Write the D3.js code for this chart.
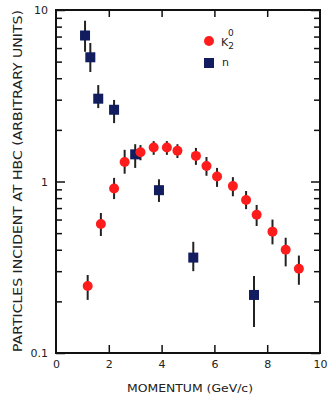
<!DOCTYPE html>
<html>
<head>
<meta charset="utf-8">
<script src="https://cdn.jsdelivr.net/npm/d3@7"></script>
<style>
  body { margin: 0; background: #fff; }
  text { font-family: "DejaVu Sans", sans-serif; fill: #222; }
</style>
</head>
<body>
<div id="chart"></div>
<script>
// K2 0 points: momentum, value, error bar low / high
var kMomentum = [1.2, 1.7, 2.2, 2.6, 3.2, 3.7, 4.2, 4.6, 5.3, 5.7, 6.1, 6.7, 7.2, 7.6, 8.2, 8.7, 9.2];
var kValue    = [0.246, 0.565, 0.91, 1.30, 1.48, 1.58, 1.58, 1.51, 1.41, 1.23, 1.07, 0.94, 0.78, 0.64, 0.51, 0.40, 0.31];
var kLow      = [0.204, 0.481, 0.79, 1.11, 1.33, 1.43, 1.43, 1.37, 1.25, 1.08, 0.93, 0.82, 0.69, 0.55, 0.43, 0.32, 0.25];
var kHigh     = [0.285, 0.655, 1.05, 1.53, 1.63, 1.72, 1.72, 1.65, 1.57, 1.39, 1.20, 1.06, 0.88, 0.73, 0.60, 0.47, 0.37];

// neutron points
var nMomentum = [1.1, 1.3, 1.6, 2.2, 3.0, 3.9, 5.2, 7.5];
var nValue    = [7.1, 5.3, 3.04, 2.62, 1.44, 0.89, 0.36, 0.218];
var nLow      = [5.71, 4.35, 2.68, 2.19, 1.20, 0.76, 0.30, 0.142];
var nHigh     = [8.66, 6.42, 3.65, 2.99, 1.65, 1.03, 0.445, 0.281];

var xTickLabels = [0, 2, 4, 6, 8, 10];
var xInnerTicks = [2, 4, 6, 8];
var yMajorTicks = [0.1, 1, 10];
var yMinorTicks = [0.2, 0.3, 0.4, 0.5, 0.6, 0.7, 0.8, 0.9, 2, 3, 4, 5, 6, 7, 8, 9];

var width = 333, height = 398;
var plotLeft = 56, plotRight = 320, plotTop = 10, plotBottom = 353;

var svg = d3.select("#chart").append("svg")
            .attr("width", width)
            .attr("height", height);

var x = d3.scaleLinear().domain([0, 10]).range([plotLeft, plotRight]);
var y = d3.scaleLog().domain([0.1, 10]).range([plotBottom, plotTop]);

function zip(m, v, lo, hi) {
  return m.map(function (d, i) { return {x: d, v: v[i], lo: lo[i], hi: hi[i]}; });
}
var kData = zip(kMomentum, kValue, kLow, kHigh);
var nData = zip(nMomentum, nValue, nLow, nHigh);

function styleAxis(g) {
  g.select(".domain").remove();
  g.selectAll("line").attr("stroke", "#111").attr("stroke-width", 1.5);
  g.selectAll("text").attr("font-size", 11).attr("fill", "#222");
}

// bottom: inner ticks + labels
svg.append("g").attr("transform", "translate(0," + plotBottom + ")")
   .call(d3.axisBottom(x).tickValues(xInnerTicks).tickSize(-8).tickFormat(""))
   .call(styleAxis);
svg.append("g").attr("transform", "translate(0," + plotBottom + ")")
   .call(d3.axisBottom(x).tickValues(xTickLabels).tickSize(0).tickPadding(7).tickFormat(d3.format("d")))
   .call(styleAxis);
// top
svg.append("g").attr("transform", "translate(0," + plotTop + ")")
   .call(d3.axisTop(x).tickValues(xInnerTicks).tickSize(-7).tickFormat(""))
   .call(styleAxis);

// left
svg.append("g").attr("transform", "translate(" + plotLeft + ",0)")
   .call(d3.axisLeft(y).tickValues(yMinorTicks).tickSize(-6).tickFormat(""))
   .call(styleAxis);
svg.append("g").attr("transform", "translate(" + plotLeft + ",0)")
   .call(d3.axisLeft(y).tickValues(yMajorTicks).tickSize(-9).tickPadding(8)
           .tickFormat(function (d) { return d === 0.1 ? "0.1" : String(d); }))
   .call(styleAxis);
// right
svg.append("g").attr("transform", "translate(" + plotRight + ",0)")
   .call(d3.axisRight(y).tickValues(yMinorTicks).tickSize(-6).tickFormat(""))
   .call(styleAxis);
svg.append("g").attr("transform", "translate(" + plotRight + ",0)")
   .call(d3.axisRight(y).tickValues(yMajorTicks).tickSize(-9).tickFormat(""))
   .call(styleAxis);

// frame
svg.append("rect")
   .attr("x", plotLeft).attr("y", plotTop)
   .attr("width", plotRight - plotLeft).attr("height", plotBottom - plotTop)
   .attr("fill", "none").attr("stroke", "#111").attr("stroke-width", 2);

// axis titles
svg.append("text")
   .attr("x", (plotLeft + plotRight) / 2 + 2).attr("y", 392)
   .attr("text-anchor", "middle").attr("font-size", 11)
   .attr("textLength", 126).attr("lengthAdjust", "spacingAndGlyphs")
   .text("MOMENTUM (GeV/c)");

svg.append("text")
   .attr("transform", "translate(22,181) rotate(-90)")
   .attr("text-anchor", "middle").attr("font-size", 12)
   .attr("textLength", 342).attr("lengthAdjust", "spacingAndGlyphs")
   .text("PARTICLES INCIDENT AT HBC (ARBITRARY UNITS)");

// error bars
function errorBars(data) {
  svg.append("g").selectAll("line")
     .data(data).enter().append("line")
     .attr("x1", function (d) { return x(d.x); })
     .attr("x2", function (d) { return x(d.x); })
     .attr("y1", function (d) { return y(d.lo); })
     .attr("y2", function (d) { return y(d.hi); })
     .attr("stroke", "#222").attr("stroke-width", 2);
}
errorBars(kData);
errorBars(nData);

var red = "#ff1c1c", navy = "#111d5e";

svg.append("g").selectAll("rect")
   .data(nData).enter().append("rect")
   .attr("x", function (d) { return x(d.x) - 5; })
   .attr("y", function (d) { return y(d.v) - 5; })
   .attr("width", 10).attr("height", 10)
   .style("fill", navy);

svg.append("g").selectAll("circle")
   .data(kData).enter().append("circle")
   .attr("cx", function (d) { return x(d.x); })
   .attr("cy", function (d) { return y(d.v); })
   .attr("r", 5)
   .style("fill", red);

// legend
svg.append("circle").attr("cx", 209).attr("cy", 41).attr("r", 5).style("fill", red);
svg.append("rect").attr("x", 204).attr("y", 58).attr("width", 10).attr("height", 10).style("fill", navy);

var kLabel = svg.append("text").attr("x", 221).attr("y", 46).attr("font-size", 11);
kLabel.append("tspan").text("K");
kLabel.append("tspan").attr("font-size", 9).attr("dy", 3).text("2");
kLabel.append("tspan").attr("font-size", 9).attr("dx", -6).attr("dy", -13).text("0");

svg.append("text").attr("x", 222).attr("y", 66).attr("font-size", 11).text("n");
</script>
</body>
</html>
